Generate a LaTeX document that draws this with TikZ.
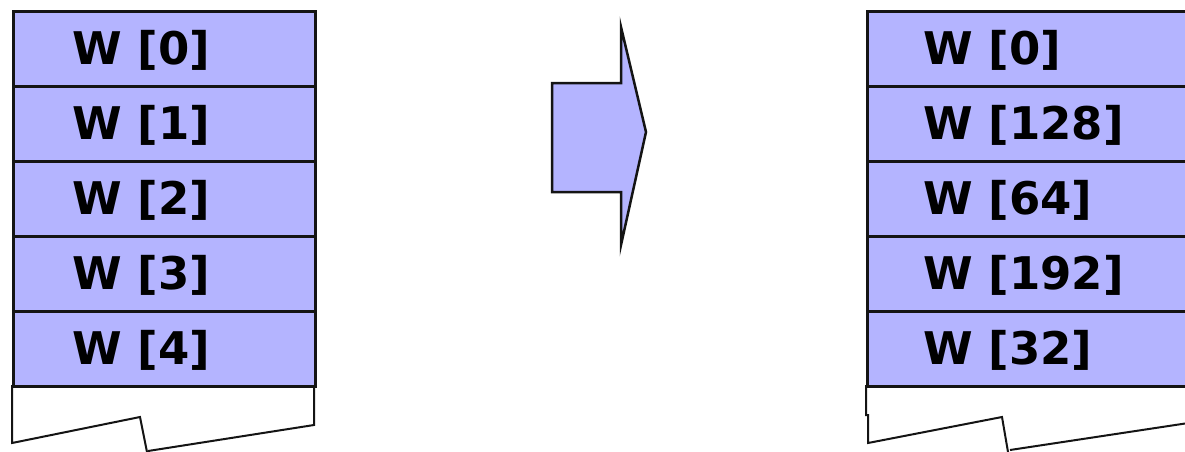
\documentclass[tikz,border=0pt]{standalone}
\usepackage{fontspec}
\setmainfont{DejaVu Sans}
\definecolor{cellblue}{RGB}{180,180,255}
\definecolor{edge}{RGB}{20,20,20}
\tikzset{
  cell/.style={draw=edge, line width=3pt, fill=cellblue, rectangle, inner sep=0pt, anchor=north west, minimum height=75pt},
  lbl/.style={anchor=base west, inner sep=0pt, font=\bfseries\fontsize{45}{50}\selectfont},
  torn/.style={draw=edge, line width=2pt, line join=miter}
}
\begin{document}
\begin{tikzpicture}[x=1pt,y=-1pt]
\useasboundingbox (0,0) rectangle (1185,451);
\begin{scope}
\clip (0,0) rectangle (1185,451);
% left stack
\draw[torn] (12,385) -- (12,443) -- (140,417) -- (147,452);
\draw[torn] (148,451) -- (314,425) -- (314,385);
\foreach \i/\t in {0/{W [0]},1/{W [1]},2/{W [2]},3/{W [3]},4/{W [4]}}{
  \node[cell, minimum width=302pt] (l\i) at (12,{10+75*\i}) {};
  \node[lbl] (lt\i) at ([xshift=60pt,yshift=-15pt]l\i.west) {\t};
}
% right stack
\draw[torn] (866,385) -- (866,415) -- (868,415) -- (868,443) -- (1002,417) -- (1008,452);
\draw[torn] (1010,450) -- (1195,422);
\foreach \i/\t in {0/{W [0]},1/{W [128]},2/{W [64]},3/{W [192]},4/{W [32]}}{
  \node[cell, minimum width=340pt] (r\i) at (866,{10+75*\i}) {};
  \node[lbl] (rt\i) at ([xshift=57pt,yshift=-15pt]r\i.west) {\t};
}
% arrow
\draw[draw=edge, line width=2.5pt, fill=cellblue, line join=miter]
  (552,83) -- (621,83) -- (621,27) -- (646,132) -- (621,245) -- (621,192) -- (552,192) -- cycle;
\end{scope}
\end{tikzpicture}
\end{document}
